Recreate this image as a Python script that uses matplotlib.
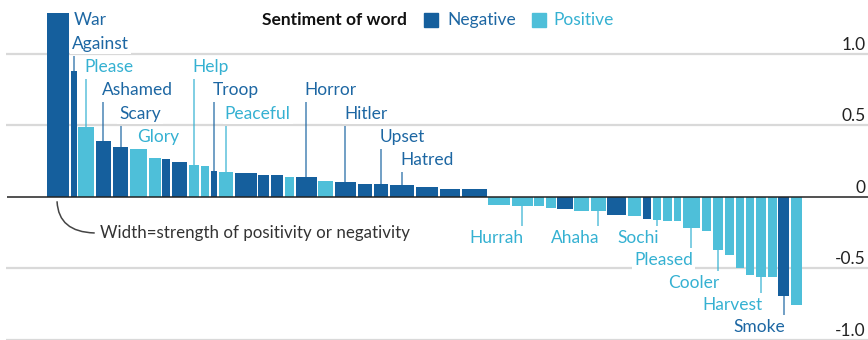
import numpy as np
import matplotlib.pyplot as plt

# bar widths (strength of the word) and heights (score), left to right
widths = [24.3, 7.3, 17.4, 17.0, 17.3, 19.0, 13.3, 9.4, 17.3, 11.7,
          10.0, 8.3, 16.0, 23.3, 12.7, 14.0, 11.0, 22.3, 16.4, 23.0,
          16.3, 16.0, 26.0, 24.0, 21.7, 26.6, 23.4, 22.6, 11.7, 11.3,
          17.0, 16.7, 16.3, 20.2, 15.2, 10.3, 10.0, 10.5, 9.2, 19.0,
          11.0, 12.3, 10.7, 10.3, 10.0, 11.7, 10.6, 12.7, 12.3]
scores = [1.282, 0.876, 0.49, 0.387, 0.345, 0.333, 0.268, 0.266, 0.24, 0.224,
          0.212, 0.18, 0.172, 0.163, 0.154, 0.154, 0.14, 0.14, 0.112, 0.103,
          0.091, 0.091, 0.079, 0.065, 0.056, 0.054, -0.056, -0.063, -0.063, -0.079,
          -0.084, -0.098, -0.098, -0.131, -0.138, -0.156, -0.162, -0.168, -0.171, -0.219,
          -0.243, -0.375, -0.41, -0.499, -0.545, -0.564, -0.564, -0.692, -0.755]
sentiment = ['neg', 'neg', 'pos', 'neg', 'neg', 'pos', 'pos', 'neg', 'neg', 'pos',
             'pos', 'neg', 'pos', 'neg', 'neg', 'neg', 'pos', 'neg', 'pos', 'neg',
             'neg', 'neg', 'neg', 'neg', 'neg', 'neg', 'pos', 'pos', 'pos', 'pos',
             'neg', 'pos', 'pos', 'neg', 'pos', 'neg', 'pos', 'pos', 'pos', 'pos',
             'pos', 'pos', 'pos', 'pos', 'pos', 'pos', 'pos', 'neg', 'pos']

label_words = ['War', 'Against', 'Please', 'Ashamed', 'Scary', 'Glory', 'Help',
               'Troop', 'Peaceful', 'Horror', 'Hitler', 'Upset', 'Hatred',
               'Hurrah', 'Ahaha', 'Sochi', 'Pleased', 'Cooler', 'Harvest', 'Smoke']
label_bar = [0, 1, 2, 3, 4, 5, 9, 11, 12, 17, 19, 21, 22,
             27, 32, 36, 39, 41, 45, 47]
# label rows, in pixels from the top of the figure
label_row = [20, 44, 67, 90, 114, 137, 67, 90, 114, 90, 114, 137, 160,
             238, 238, 238, 260, 283, 305, 327]

yticks = [1.0, 0.5, 0, -0.5, -1.0]
ytick_labels = ['1.0', '0.5', '0', '-0.5', '-1.0']

dark, light = '#155f9d', '#4ebfd9'
dark_txt, light_txt = '#1d67a3', '#35b1d2'
FONT = 'Lato'

Y0, SCALE = 196.7, 143.0   # zero row and pixels per unit


def v(row):
    return (Y0 - row) / SCALE


fig = plt.figure(figsize=(8.68, 3.40), dpi=100)
ax = fig.add_axes([0, 0, 1, 1])
ax.set_xlim(0, 868)
ax.set_ylim(v(340), v(0))
ax.axis('off')

# grid
for t in yticks:
    if t != 0:
        ax.hlines(t, 6, 868, color='#d9d9d9', lw=1.6, zorder=0)
ax.hlines(0, 7, 868, color='#222222', lw=1.1, zorder=4)
for t, s in zip(yticks, ytick_labels):
    ax.text(866, t + 4 / SCALE, s, ha='right', va='baseline', fontsize=12.5,
            family=FONT, color='#222222')

# variable-width bars
gap = 1.6
lefts = 46.7 + np.concatenate([[0], np.cumsum(widths)[:-1]])
cols = [dark if s == 'neg' else light for s in sentiment]
ax.bar(lefts, scores, width=np.array(widths) - gap, align='edge', color=cols,
       zorder=3)

# word labels with leader lines
for w, i, row in zip(label_words, label_bar, label_row):
    c = dark_txt if sentiment[i] == 'neg' else light_txt
    xc = lefts[i] + (widths[i] - gap) / 2
    ty = v(row)
    box = dict(facecolor='white', edgecolor='none', pad=1.5)
    if w == 'War':
        ax.text(lefts[i] + widths[i] - gap + 4.5, ty, w, ha='left', va='center',
                fontsize=12.5, family=FONT, color=c, bbox=box, zorder=2)
        continue
    if scores[i] > 0:
        ax.vlines(xc, scores[i], ty - 12 / SCALE, color=c, lw=1.1, alpha=0.8, zorder=2)
        ax.text(xc - 1.5, ty, w, ha='left', va='center', fontsize=12.5,
                family=FONT, color=c, bbox=box, zorder=2)
    else:
        ax.vlines(xc, scores[i], ty + 12 / SCALE, color=c, lw=1.1, alpha=0.8, zorder=2)
        ax.text(xc + 1.5, ty, w, ha='right', va='center', fontsize=12.5,
                family=FONT, color=c, bbox=box, zorder=2)

# width note
ax.annotate('', xy=(57, v(199)), xytext=(97, v(233)),
            arrowprops=dict(arrowstyle='-', color='#444444', lw=1.1,
                            connectionstyle='angle3,angleA=0,angleB=90'))
ax.text(100, v(233), 'Width=strength of positivity or negativity', ha='left',
        va='center', fontsize=12.2, family=FONT, color='#333333')

# legend
ax.text(262, v(20), 'Sentiment of word', ha='left', va='center', fontsize=12.5,
        family=FONT, fontweight='bold', color='#111111')
ax.plot([430.5], [v(20)], 's', ms=9.5, color=dark)
ax.text(447, v(20), 'Negative', ha='left', va='center', fontsize=12.5,
        family=FONT, color=dark_txt)
ax.plot([538.5], [v(20)], 's', ms=9.5, color=light)
ax.text(553, v(20), 'Positive', ha='left', va='center', fontsize=12.5,
        family=FONT, color=light_txt)

fig.savefig('out.png', dpi=100)
